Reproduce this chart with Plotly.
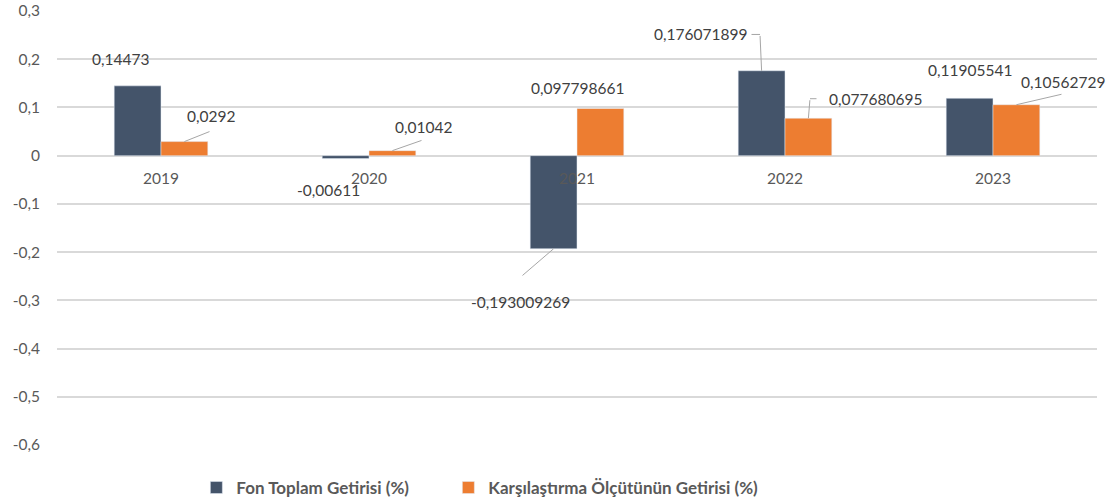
import plotly.graph_objects as go

years = ["2019", "2020", "2021", "2022", "2023"]
fon_values = [0.14473, -0.00611, -0.193009269, 0.176071899, 0.11905541]
kars_values = [0.0292, 0.01042, 0.097798661, 0.077680695, 0.10562729]
fon_name = "Fon Toplam Getirisi (%)"
kars_name = "Karşılaştırma Ölçütünün Getirisi (%)"
y_tickvals = [0.3, 0.2, 0.1, 0, -0.1, -0.2, -0.3, -0.4, -0.5, -0.6]
y_ticktext = ["0,3", "0,2", "0,1", "0", "-0,1", "-0,2", "-0,3", "-0,4", "-0,5", "-0,6"]

DARK = "#44546A"
ORANGE = "#ED7D31"
FONT = "Lato"
LABEL_COLOR = "#404040"
TICK_COLOR = "#595959"
LEADER = "#A6A6A6"
Y_MIN, Y_MAX = -0.6, 0.3


def fmt(v):
    return repr(v).replace(".", ",")


fig = go.Figure()
fig.add_trace(go.Bar(x=years, y=fon_values, name=fon_name, marker_color=DARK, legend="legend"))
fig.add_trace(go.Bar(x=years, y=kars_values, name=kars_name, marker_color=ORANGE, legend="legend2"))

BAR_OFF = 23.4
# label placement (pixel offsets from bar end): (dx, dy) text center; leader segments
fon_label_pos = [(-17.6, -27), (-17.6, 31.4), (-33.6, 53), (-61.6, -36.5), (0.4, -28)]
kars_label_pos = [(26.6, -25.6), (30.6, -23.7), (-23.4, -20.5), (66.6, -19.2), (46.6, -22.8)]
fon_leaders = [None, None, [((0, 0), (-32.6, 28))], [((0, 0), (-1.6, -36.3)), ((-1.6, -36.3), (-11.6, -36.3))], None]
kars_leaders = [[((0, 0), (26.6, -10.6))], [((0, 0), (30.6, -10.7))], None,
                [((0, 0), (1.6, -19.5)), ((1.6, -19.5), (9.6, -19.5))], [((0, 0), (46.6, -10.8))]]

annotations = []
for vals, pos, leaders, off in [(fon_values, fon_label_pos, fon_leaders, -BAR_OFF),
                                (kars_values, kars_label_pos, kars_leaders, BAR_OFF)]:
    for idx, (v, (dx, dy), lead) in enumerate(zip(vals, pos, leaders)):
        annotations.append(dict(
            x=idx, y=v, xref="x", yref="y", text=fmt(v), showarrow=False,
            xshift=off + dx, yshift=-dy,
            font=dict(family=FONT, size=15.5, color=LABEL_COLOR)))
        if lead:
            for (sx, sy), (ex, ey) in lead:
                annotations.append(dict(
                    x=idx, y=v, xref="x", yref="y", text="", showarrow=True,
                    arrowhead=0, arrowwidth=1, arrowcolor=LEADER,
                    axref="pixel", ayref="pixel",
                    xshift=off + sx, yshift=-sy, ax=ex - sx, ay=ey - sy,
                    standoff=0, startstandoff=0))

zero_pos = (0 - Y_MIN) / (Y_MAX - Y_MIN)
legend_font = dict(family=FONT, size=17, color=TICK_COLOR, weight="bold")

fig.update_layout(
    width=1110, height=497,
    margin=dict(l=57, r=13, t=11, b=52, autoexpand=False),
    paper_bgcolor="white", plot_bgcolor="white",
    barmode="group", bargap=0.55, bargroupgap=0,
    separators=",.",
    font=dict(family=FONT, color=TICK_COLOR),
    annotations=annotations,
    showlegend=True,
    legend=dict(orientation="h", x=0.134, xanchor="left", y=-0.099, yanchor="middle",
                font=legend_font),
    legend2=dict(orientation="h", x=0.3763, xanchor="left", y=-0.099, yanchor="middle",
                 font=legend_font),
    xaxis=dict(type="category", anchor="free", position=zero_pos, showgrid=False, showline=False,
               ticks="", ticklabelstandoff=12, range=[-0.5, len(years) - 0.5],
               tickfont=dict(family=FONT, size=15.5, color=TICK_COLOR)),
    yaxis=dict(range=[Y_MIN, Y_MAX], tickvals=y_tickvals, ticktext=y_ticktext,
               showgrid=True, gridcolor="#D9D9D9", gridwidth=2,
               zeroline=False, showline=False, ticks="", ticklabelstandoff=16,
               tickfont=dict(family=FONT, size=15.5, color=TICK_COLOR)),
)

fig.write_html("out.html", config={"displayModeBar": False},
               post_script="document.body.style.margin='0';")
